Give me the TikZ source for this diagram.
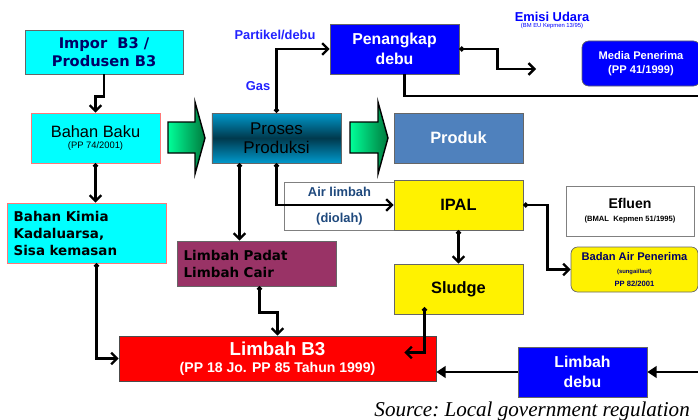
\documentclass[tikz,border=0pt]{standalone}
\usepackage{fontspec}
\setmainfont{Liberation Sans}
\newfontfamily\verdfont{DejaVu Sans}
\newfontfamily\timesfont{Liberation Serif}
\usepackage{tikz}
\usepackage{xcolor}
\usetikzlibrary{positioning}
\usetikzlibrary{calc}
\usetikzlibrary{arrows.meta}
\definecolor{boxcyan}{HTML}{00FFFF}
\definecolor{pinkline}{HTML}{FF7777}
\definecolor{navytxt}{HTML}{000066}
\definecolor{pureblue}{HTML}{0000FF}
\definecolor{labelblue}{HTML}{2222FF}
\definecolor{produkblue}{HTML}{4F81BD}
\definecolor{padatred}{HTML}{993366}
\definecolor{tealtop}{HTML}{0099CC}
\definecolor{tealdark}{HTML}{00394D}
\definecolor{airtxt}{HTML}{1F497D}
\definecolor{greenlight}{HTML}{00FF99}
\definecolor{greendark}{HTML}{007A3D}
\tikzstyle{box} = [rectangle, minimum width=3.87cm, minimum height=1.5cm, text centered, align=center, draw=black!60, line width=0.6pt, inner sep=1pt]
\tikzstyle{cyanbox} = [box, fill=boxcyan, draw=pinkline]
\tikzstyle{yellowbox} = [box, fill=yellow, font=\bfseries\fontsize{14}{16}\selectfont]
\tikzstyle{bluebox} = [box, fill=pureblue, text=white, font=\bfseries\fontsize{13.5}{16.5}\selectfont]
\tikzstyle{leftbox} = [box, align=left, inner xsep=0.2cm, font=\verdfont\bfseries\fontsize{11.5}{14.5}\selectfont]
\tikzstyle{label} = [font=\bfseries\fontsize{11}{13}\selectfont, text=labelblue]
\tikzstyle{blockarrow} = [draw=black, line width=1.2pt, left color=greenlight, right color=greendark]
\tikzstyle{line} = [line width=2pt]
\tikzstyle{arrow} = [line width=2pt, -{Straight Barb[length=5pt,width=10pt]}]
\tikzstyle{dotarrow} = [line width=2pt, {Circle[length=4pt]}-{Straight Barb[length=5pt,width=10pt]}]
\tikzstyle{fatarrow} = [line width=2pt, -{Triangle[length=8pt,width=10pt]}]

\begin{document}
\begin{tikzpicture}[x=0.03cm, y=-0.03cm]
    \useasboundingbox (0,0) rectangle (698,420);
    \clip (0,0) rectangle (698,420);

    \node (impor) [box, fill=boxcyan, minimum width=4.74cm, minimum height=1.32cm, text=navytxt, font=\verdfont\bfseries\fontsize{12.5}{15.5}\selectfont] at (104,52) {Impor~~B3 /\\Produsen B3};
    \node (baku) [cyanbox] at (95.5,138) {\fontsize{14}{16}\selectfont Bahan Baku\\[-3pt]\fontsize{8}{9}\selectfont (PP 74/2001)};
    \node (kimia) [leftbox, fill=boxcyan, draw=pinkline, minimum height=1.8cm, text width=4.37cm] at (86.5,233) {Bahan Kimia\\Kadaluarsa,\\Sisa kemasan};

    \draw [blockarrow] (168,122) -- (195,122) -- (195,102) -- (205,138) -- (195,174) -- (195,153) -- (168,153) -- cycle;
    \node (proses) [box, top color=tealtop, bottom color=tealtop, middle color=tealdark, font=\fontsize{14.5}{16.5}\selectfont] at (276.5,138) {Proses\\Produksi};
    \draw [blockarrow] (350,122) -- (378,122) -- (378,102) -- (388,138) -- (378,174) -- (378,153) -- (350,153) -- cycle;
    \node (produk) [box, fill=produkblue, text=white, font=\bfseries\fontsize{14}{16}\selectfont] at (458.5,138) {Produk};

    \node (penangkap) [bluebox] at (394.5,49) {Penangkap\\debu};
    \node (partikel) [label] at (275,35) {Partikel/debu};
    \node (gas) [label] at (258,86) {Gas};
    \node (emisi) [font=\bfseries\fontsize{11}{13}\selectfont, text=pureblue, inner sep=0pt] at (552,17) {Emisi Udara};
    \node (emisisub) [below=1pt of emisi, font=\fontsize{5}{6}\selectfont, text=pureblue, inner sep=0pt] {(BM EU Kepmen 13/95)};
    \node (media) [bluebox, rounded corners=0.2cm, minimum width=3.54cm, minimum height=1.35cm, font=\bfseries\fontsize{9.5}{11.5}\selectfont] at (641,63.5) {Media Penerima\\(PP 41/1999)};
    \coordinate (emisiend) at (536,69);
    \coordinate (offtop) at (700,96);
    \coordinate (offbottom) at (700,372);

    \node (airlabel) [box, fill=white, draw=black!50, minimum width=3.33cm, minimum height=1.44cm, text=airtxt, font=\bfseries\fontsize{11}{22}\selectfont] at (339.5,206) {Air limbah\\(diolah)};
    \node (ipal) [yellowbox] at (458.5,205) {IPAL};
    \node (efluen) [box, fill=white, draw=black!50, minimum width=3.84cm] at (630,211) {\bfseries\fontsize{12}{14}\selectfont Efluen\\[-1pt]\bfseries\fontsize{6.5}{8}\selectfont (BMAL\ \ Kepmen 51/1995)};
    \node (badan) [box, fill=yellow, rounded corners=0.2cm, minimum width=3.81cm, minimum height=1.35cm, text=navytxt] at (634.5,269.5) {\bfseries\fontsize{9.5}{11}\selectfont Badan Air Penerima\\[-1pt]\bfseries\fontsize{5}{6}\selectfont (sungai/laut)\\[-1pt]\bfseries\fontsize{6.5}{7.5}\selectfont PP 82/2001};
    \node (sludge) [yellowbox] at (458.5,289) {Sludge};
    \node (padat) [leftbox, fill=padatred, minimum width=4.77cm, minimum height=1.35cm, text width=4.37cm] at (256.5,263.5) {Limbah Padat\\Limbah Cair};
    \node (b3) [box, fill=red, draw=black!70, minimum width=9.51cm, minimum height=1.35cm, text=white, font=\bfseries] at (277.5,358.5) {\fontsize{16}{18}\selectfont Limbah B3\\[2pt]\fontsize{12}{14}\selectfont (PP 18 Jo. PP 85 Tahun 1999)};
    \node (debu) [bluebox] at (582.5,372) {Limbah\\debu};
    \node (source) [anchor=base east, font=\timesfont\itshape\fontsize{18}{20}\selectfont, inner sep=0pt] at (690,416) {\frenchspacing Source: Local government regulation};

    \draw [arrow] (impor.south) -- ++(0,22) -| (baku.north);
    \draw [dotarrow] (baku.south) -- (baku.south |- kimia.north);
    \draw [dotarrow] ($(kimia.south)+(10,0)$) |- (b3.west);
    \draw [dotarrow] ($(proses.south)+(-37,0)$) coordinate (pleft) -- (pleft |- padat.north);
    \draw [dotarrow] (proses.south) |- (ipal.west);
    \draw [dotarrow] (proses.north) |- (penangkap.west);
    \draw [dotarrow] (penangkap.east) -- ++(38,0) |- (emisiend);
    \draw [line] ($(penangkap.south)+(10,0)$) |- (offtop);
    \draw [fatarrow] (offbottom) -- (debu.east);
    \draw [fatarrow] (debu.west) -- (debu.west -| b3.east);
    \draw [dotarrow] (ipal.south) -- (sludge.north);
    \draw [dotarrow] (ipal.east) -- ++(24,0) |- (badan.west);
    \draw [dotarrow] ($(sludge.south)+(-34,-7)$) |- ($(b3.east)+(-32,-6)$);
    \draw [dotarrow] ($(padat.south)+(3,0)$) -- ++(0,26) -| (b3.north);
\end{tikzpicture}
\end{document}
